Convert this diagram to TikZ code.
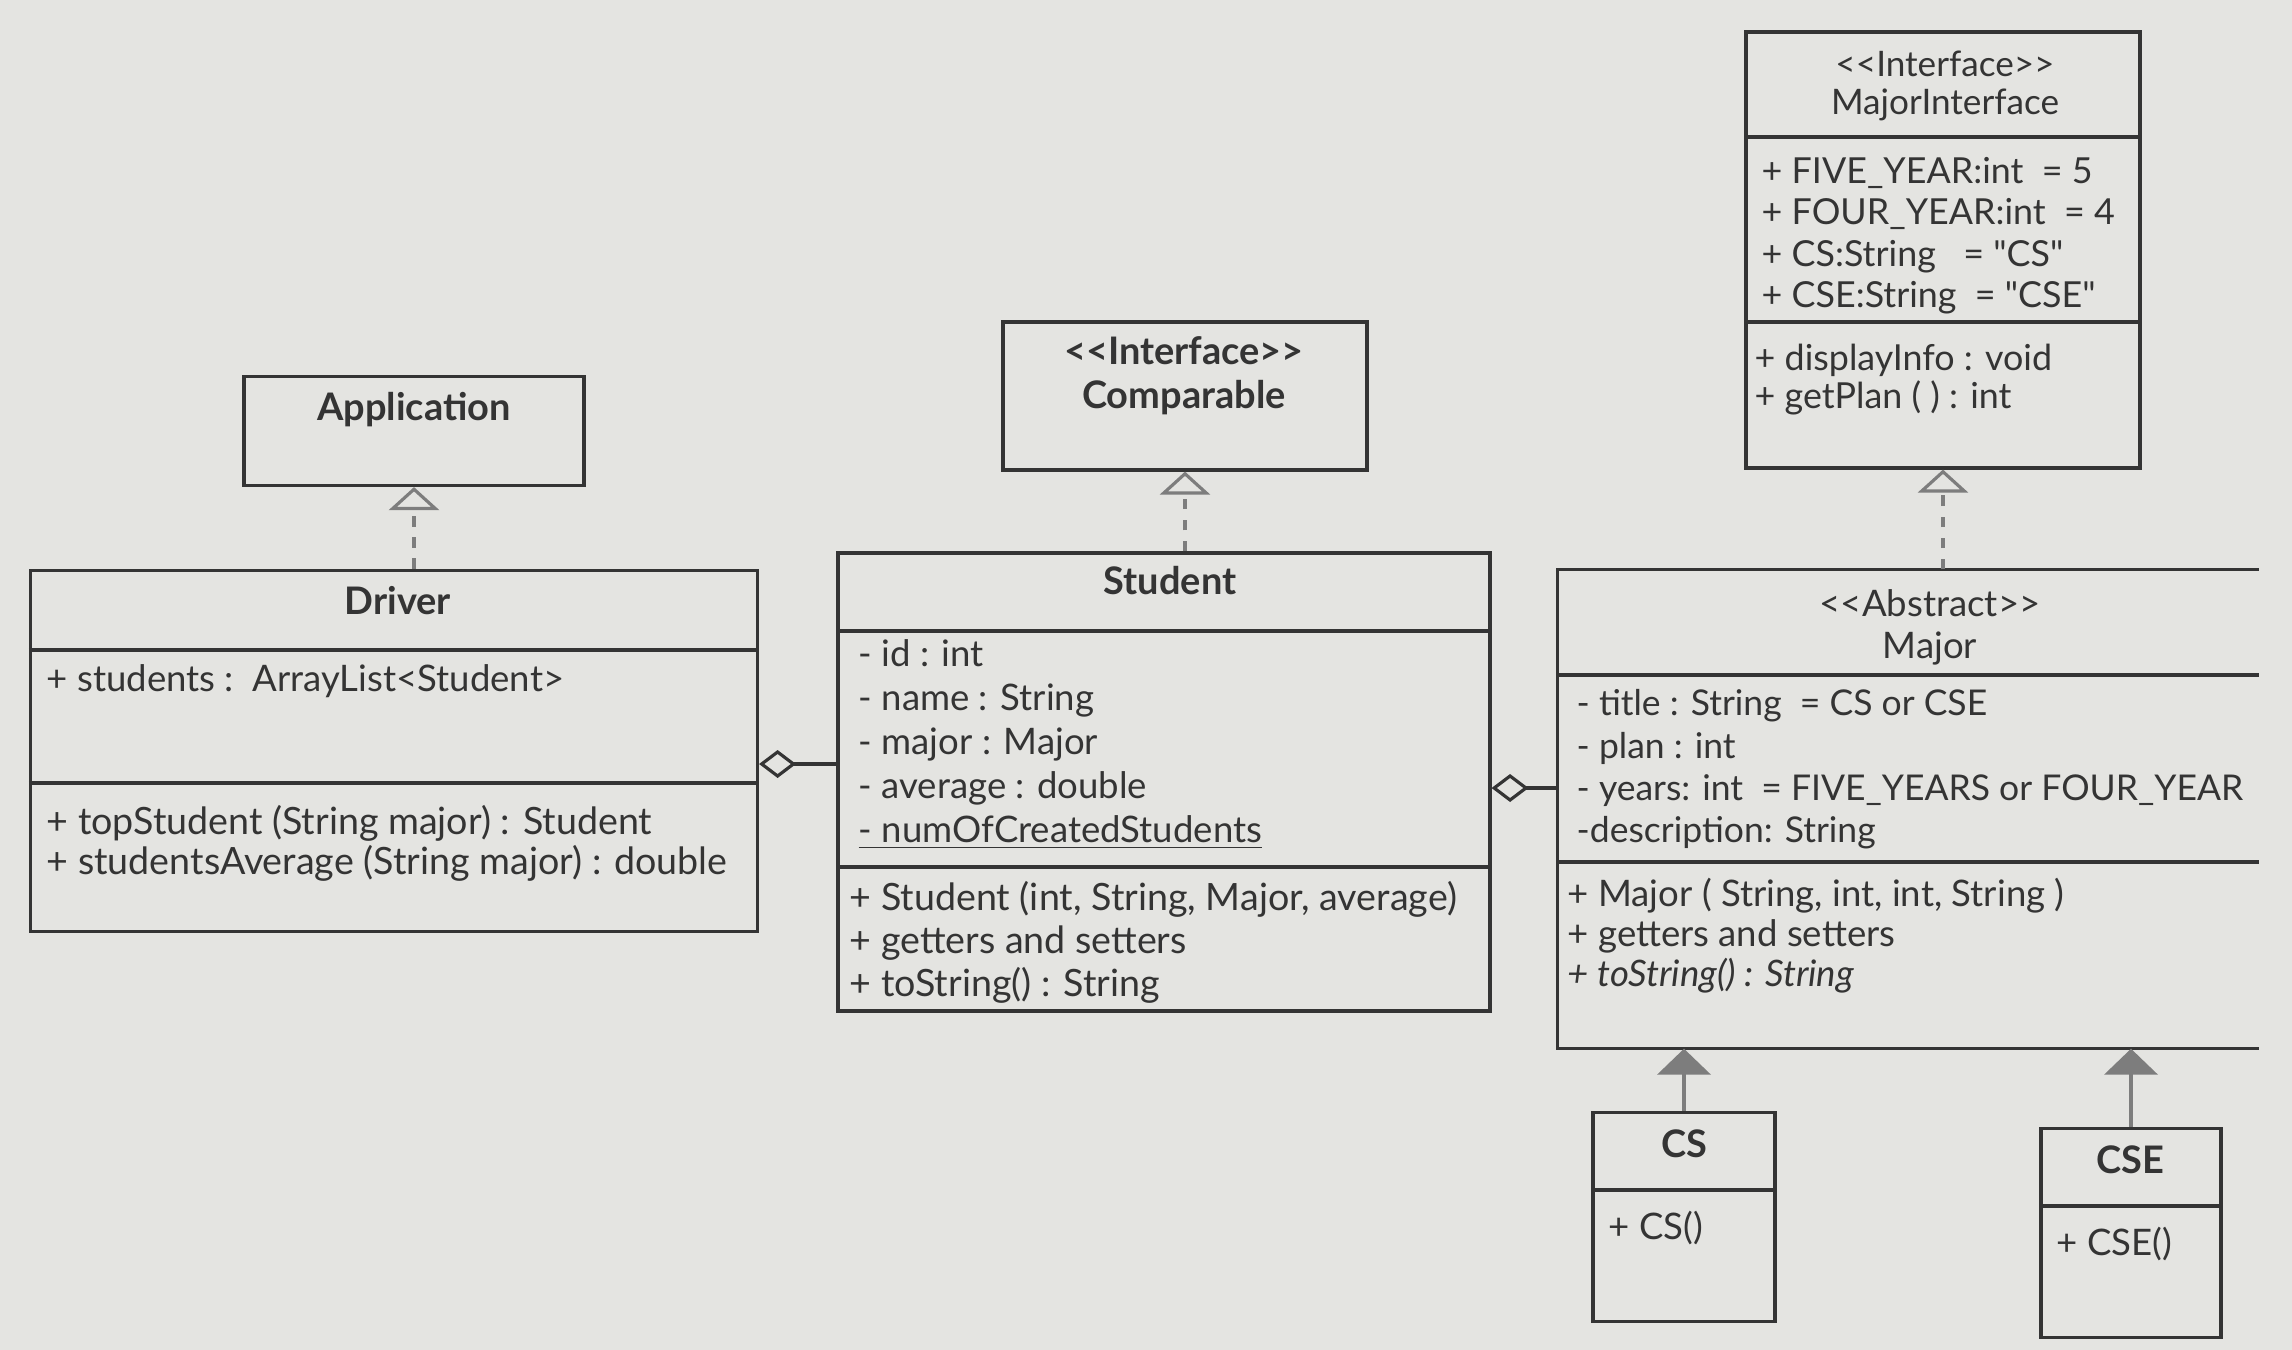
\documentclass[tikz,border=0pt]{standalone}
\usepackage{fontspec}
\newfontfamily\lato{Lato}
\usetikzlibrary{arrows.meta}
\definecolor{paper}{RGB}{228,228,225}
\definecolor{ink}{RGB}{52,52,52}
\definecolor{wire}{RGB}{125,125,125}

\begin{document}
\begin{tikzpicture}[x=0.1mm,y=-0.1mm,every node/.style={text=ink},
    class box/.style={draw=ink,line width=0.9pt,inner sep=0pt},
    rule/.style={draw=ink,line width=0.9pt},
    class name/.style={font=\lato\bfseries\fontsize{10.8}{12.5}\selectfont,align=center},
    stereo name/.style={font=\lato\fontsize{10.4}{12}\selectfont,align=center},
    member text/.style={font=\lato\fontsize{10.4}{12.2}\selectfont,anchor=north west,align=left,inner sep=0pt},
    realize/.style={draw=wire,line width=0.9pt,dash pattern=on 3pt off 3pt,-{Triangle[open,length=2.3mm,width=5mm]}},
    inherit/.style={draw=wire,line width=1.3pt,-{Triangle[fill=wire,length=2.6mm,width=5.3mm]}},
    aggr/.style={draw=ink,line width=0.9pt,{Diamond[open,length=3.7mm,width=2.8mm]}-}]

  \path[use as bounding box,fill=paper] (0,0) rectangle (2292,1350);

  % Application
  \node[class box,minimum width=34mm,minimum height=10.9mm] (app) at (414,431) {};
  \node[class name] (app name) at (414,410) {Application};

  % Driver
  \node[class box,minimum width=72.7mm,minimum height=36.1mm] (drv) at (394,751) {};
  \draw[rule] (drv.west |- 0,650) -- (drv.east |- 0,650);
  \draw[rule] (drv.west |- 0,783) -- (drv.east |- 0,783);
  \node[class name] (drv name) at (398,601) {Driver};
  \node[member text] (drv attr) at (46,664) {+ students :\ \ ArrayList<Student>};
  \node[member text,font=\lato\fontsize{10.7}{11.2}\selectfont] (drv ops) at (46,805)
    {+ topStudent (String major) : Student\\+ studentsAverage (String major) : double};

  % Comparable
  \node[class box,minimum width=36.4mm,minimum height=14.8mm] (cmp) at (1185,396) {};
  \node[class name] (cmp name) at (1184,376) {<<Interface>>\\Comparable};

  % Student
  \node[class box,minimum width=65.2mm,minimum height=45.8mm] (stu) at (1164,782) {};
  \draw[rule] (stu.west |- 0,631) -- (stu.east |- 0,631);
  \draw[rule] (stu.west |- 0,867) -- (stu.east |- 0,867);
  \node[class name] (stu name) at (1170,581) {Student};
  \node[member text,font=\lato\fontsize{10.4}{12.5}\selectfont] (stu attr) at (858,639)
    {- id : int\\- name : String\\- major : Major\\- average : double\\\underline{- numOfCreatedStudents}};
  \node[member text,font=\lato\fontsize{10.7}{12.2}\selectfont] (stu ops) at (849,881)
    {+ Student (int, String, Major, average)\\+ getters and setters\\+ toString() : String};

  % MajorInterface
  \node[class box,minimum width=39.4mm,minimum height=43.6mm] (mi) at (1943,250) {};
  \draw[rule] (mi.west |- 0,137) -- (mi.east |- 0,137);
  \draw[rule] (mi.west |- 0,322) -- (mi.east |- 0,322);
  \node[stereo name,font=\lato\fontsize{10}{11}\selectfont] (mi name) at (1945,86) {<<Interface>>\\MajorInterface};
  \node[member text,font=\lato\fontsize{10.2}{11.7}\selectfont] (mi attr) at (1761,157)
    {+ FIVE\_YEAR:int\ \ = 5\\+ FOUR\_YEAR:int\ \ = 4\\+ CS:String\ \ \ = "CS"\\+ CSE:String\ \ = "CSE"};
  \node[member text,font=\lato\fontsize{10.2}{11}\selectfont] (mi ops) at (1754,343)
    {+ displayInfo : void\\+ getPlan ( ) : int};

  % Major (right border lies off the page)
  \node[inner sep=0pt,minimum width=70mm,minimum height=47.8mm] (maj) at (1908,809) {};
  \draw[rule] (maj.north east) -- (maj.north west) -- (maj.south west) -- (maj.south east);
  \draw[rule] (maj.west |- 0,675) -- (maj.east |- 0,675);
  \draw[rule] (maj.west |- 0,862) -- (maj.east |- 0,862);
  \node[stereo name] (maj name) at (1930,627) {<<Abstract>>\\Major};
  \node[member text,font=\lato\fontsize{10.1}{12}\selectfont] (maj attr) at (1576,689)
    {- title : String\ \ = CS or CSE\\- plan : int\\- years: int\ \ = FIVE\_YEARS or FOUR\_YEAR\\-description: String};
  \node[member text,font=\lato\fontsize{10.4}{11.4}\selectfont] (maj ops) at (1567,877)
    {+ Major ( String, int, int, String )\\+ getters and setters\\\textit{+ toString() : String}};

  % CS and CSE
  \node[class box,minimum width=18.2mm,minimum height=20.9mm] (cs) at (1684,1217) {};
  \draw[rule] (cs.west |- 0,1190) -- (cs.east |- 0,1190);
  \node[class name] (cs name) at (1684,1144) {CS};
  \node[member text] (cs ops) at (1608,1210) {+ CS()};
  \node[class box,minimum width=18mm,minimum height=20.9mm] (cse) at (2131,1233) {};
  \draw[rule] (cse.west |- 0,1206) -- (cse.east |- 0,1206);
  \node[class name] (cse name) at (2130,1160) {CSE};
  \node[member text] (cse ops) at (2056,1226) {+ CSE()};

  % relations
  \draw[realize] (drv.north -| app.south) -- (app.south);
  \draw[realize] (stu.north -| cmp.south) -- (cmp.south);
  \draw[realize] (maj.north -| mi.south) -- (mi.south);
  \draw[inherit] (cs.north) -- (cs.north |- maj.south);
  \draw[inherit] (cse.north) -- (cse.north |- maj.south);
  \draw[aggr] ([yshift=-1.3mm]drv.east) -- ([yshift=-1.3mm]drv.east -| stu.west);
  \draw[aggr] ([yshift=-0.6mm]stu.east) -- ([yshift=-0.6mm]stu.east -| maj.west);
\end{tikzpicture}
\end{document}
